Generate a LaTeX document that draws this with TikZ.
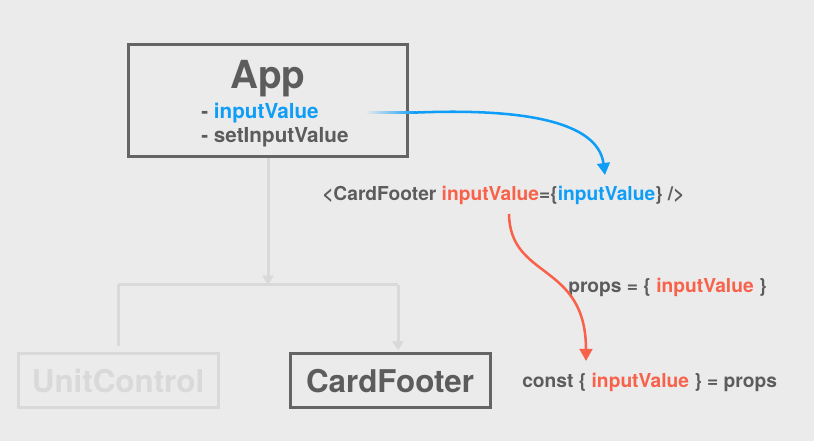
\documentclass[tikz,border=0pt]{standalone}
\usepackage{xcolor}
\usepackage{fontspec}
\setmainfont{TeX Gyre Heros}
\usetikzlibrary{arrows.meta}

\definecolor{bgc}{HTML}{EBEBEB}
\definecolor{darkc}{HTML}{5C5C5C}
\definecolor{boxc}{HTML}{646464}
\definecolor{lightc}{HTML}{D9D9D9}
\definecolor{bluec}{HTML}{0E9EF7}
\definecolor{redc}{HTML}{F8624A}

\tikzset{
	box/.style={draw=boxc,line width=2.25pt,inner sep=0pt,minimum width=150pt,minimum height=40.5pt,font=\fontsize{23.5}{27}\selectfont\bfseries,text=darkc},
	fadedbox/.style={box,draw=lightc,text=lightc},
	txt/.style={inner sep=0pt,font=\fontsize{14.4}{17}\selectfont\bfseries,text=darkc},
	listtxt/.style={txt,anchor=base west,font=\fontsize{15.5}{18}\selectfont\bfseries},
	graylink/.style={draw=lightc,line width=2.25pt},
	grayarrow/.style={graylink,-{Triangle[length=7pt,width=8pt]}},
	bluelink/.style={draw=bluec,line width=1.9pt,-{Triangle[length=9pt,width=9.5pt]}},
	redlink/.style={draw=redc,line width=1.9pt,-{Triangle[length=9pt,width=9.5pt]}}
}

\begin{document}
\begin{tikzpicture}[x=0.75pt,y=0.75pt,yscale=-1,xscale=1]
	
	%Shape: Background
	\fill[bgc] (0,0) rectangle (814,441);
	
	%Shape: Rectangle [App]
	\node[box,minimum width=209pt,minimum height=84pt] (app) at (268,101) {};
	% Text Node
	\node[txt,anchor=base,font=\fontsize{29}{34}\selectfont\bfseries] (apptitle) at (268,89) {App};
	% Text Node
	\node[listtxt] (appval) at (201,119) {- \textcolor{bluec}{inputValue}};
	% Text Node
	\node[listtxt] (appset) at (201,143) {- setInputValue};
	
	%Shape: Rectangle [UnitControl]
	\node[fadedbox] (unit) at (118,381) {UnitControl};
	%Shape: Rectangle [CardFooter]
	\node[box] (footer) at (390,381) {CardFooter};
	
	% Text Node
	\node[txt,anchor=base west] (jsx) at (322,201) {<CardFooter \textcolor{redc}{inputValue}=\{\textcolor{bluec}{inputValue}\} />};
	% Text Node
	\node[txt,anchor=base west] (props) at (568,293) {props = \{ \textcolor{redc}{inputValue} \}};
	% Text Node
	\node[txt,anchor=base west] (destr) at (522,388) {const \{ \textcolor{redc}{inputValue} \} = props};
	
	%Straight Lines [tree]
	\coordinate (barl) at (118,285);
	\coordinate (barr) at (398,285);
	\draw[grayarrow] (app.south) -- (app.south |- barl);
	\draw[graylink] (barl) -- (barr);
	\draw[graylink,shorten >=4.5pt] (barl) -- (unit.north -| barl);
	\draw[grayarrow,shorten >=1.5pt] (barr) -- (footer.north -| barr);
	
	%Curve Lines [blue]
	\coordinate (fadea) at (365,113.9);
	\coordinate (fadeb) at (416,111.3);
	\coordinate (bluestart) at (415,112.6);
	\coordinate (bluetip) at (605,175);
	\shade[left color=bgc,right color=bluec] (fadea) rectangle (fadeb);
	\draw[bluelink] (bluestart) .. controls (525,108) and (598,122) .. (bluetip);
	
	%Curve Lines [red]
	\coordinate (redstart) at (509,214);
	\coordinate (redtip) at (586,361);
	\draw[redlink] (redstart) .. controls (510,280) and (586,262) .. (redtip);
	
\end{tikzpicture}
\end{document}
